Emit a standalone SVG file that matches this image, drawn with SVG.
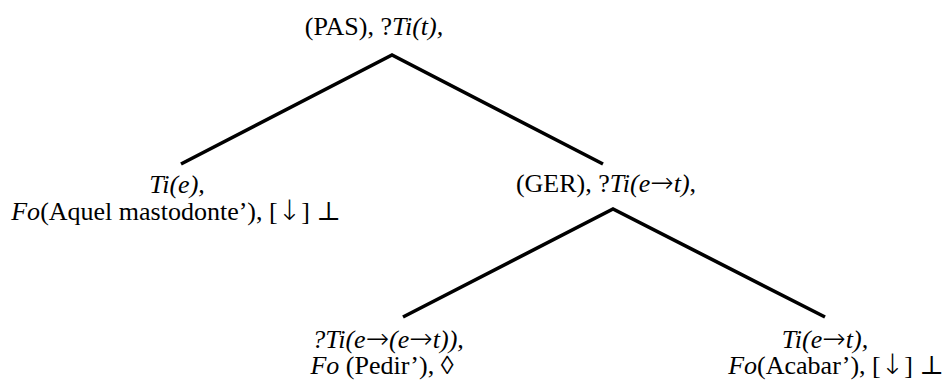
<svg xmlns="http://www.w3.org/2000/svg" width="947" height="387" viewBox="0 0 947 387">
<style>
text{font-family:"Liberation Serif","Times New Roman","DejaVu Serif",serif;font-size:26px;fill:#000;text-anchor:middle}
.i{font-style:italic}
.a{font-family:"DejaVu Sans",sans-serif;font-style:normal;font-weight:200;font-size:28px}
.d{font-family:"DejaVu Sans",sans-serif;font-style:normal;font-weight:200;font-size:28px}
.e{stroke:#000;stroke-width:3.6;fill:none;stroke-linecap:butt}
</style>
<rect width="947" height="387" fill="#fff"/>
<g id="connectors">
<path class="e" d="M181,164 L392,55 L603,164"/>
<path class="e" d="M403,317 L613,209 L825,317"/>
</g>
<g id="root"><text x="374" y="35">(PAS), ?<tspan class="i">Ti(t),</tspan></text></g>
<g id="left"><text x="177" y="193" class="i">Ti(e),</text><text x="176" y="220"><tspan class="i">Fo</tspan>(Aquel mastodonte’), [<tspan class="d">↓</tspan>] ⊥</text></g>
<g id="ger"><text x="606" y="192">(GER), ?<tspan class="i">Ti(e<tspan class="a">→</tspan>t)</tspan>,</text></g>
<g id="pedir"><text x="388" y="348" class="i">?Ti(e<tspan class="a">→</tspan>(e<tspan class="a">→</tspan>t)),</text><text x="382" y="374"><tspan class="i">Fo</tspan> (Pedir’), ◊</text></g>
<g id="acabar"><text x="825" y="348" class="i">Ti(e<tspan class="a">→</tspan>t),</text><text x="836" y="374"><tspan class="i">Fo</tspan>(Acabar’), [<tspan class="d">↓</tspan>] ⊥</text></g>
</svg>
